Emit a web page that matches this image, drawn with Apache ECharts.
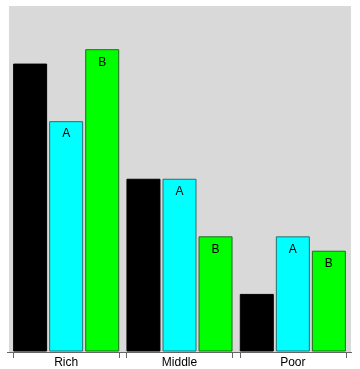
<!DOCTYPE html>
<html>
<head>
<meta charset="utf-8">
<script src="https://cdn.jsdelivr.net/npm/echarts@6/dist/echarts.min.js"></script>
<style>html,body{margin:0;padding:0;background:#fff}#c{width:360px;height:369px}</style>
</head>
<body>
<div id="c"></div>
<script>
const categories = ['Rich', 'Middle', 'Poor'];
const seriesBlack = [10, 6, 2];
const seriesCyan = [8, 6, 4];
const seriesGreen = [10.5, 4, 3.5];
const cyanLabel = 'A';
const greenLabel = 'B';
const yMax = 12;

// helper axis used only to draw tick marks at the edges of each bar group
const subdivisions = 92;
const tickIdx = [1, 30, 32, 61, 63];
const tickCats = Array.from({length: subdivisions}, (_, i) => String(i));

const chart = echarts.init(document.getElementById('c'), null, {renderer: 'canvas'});
const font = 'Liberation Sans, Arial, sans-serif';
const lbl = (t) => ({
  show: true, position: 'insideTop', distance: 7, formatter: t,
  color: '#000', fontSize: 12, fontFamily: font
});
chart.setOption({
  animation: false,
  backgroundColor: '#fff',
  graphic: [
    {type: 'rect', z: -10, shape: {x: 9, y: 6, width: 342, height: 346}, style: {fill: '#d9d9d9'}},
    {type: 'line', z: 10, shape: {x1: 7, y1: 352.5, x2: 352, y2: 352.5}, style: {stroke: '#666', lineWidth: 1}}
  ],
  grid: [
    {left: 9.5, right: 10.5, top: 6, bottom: 17},
    {left: 9.5, right: 14.2, top: 6, bottom: 17}
  ],
  xAxis: [
    {
      type: 'category', data: categories, gridIndex: 0,
      axisLine: {show: false}, axisTick: {show: false},
      axisLabel: {color: '#000', fontSize: 12, fontFamily: font, margin: 5.5}
    },
    {
      type: 'category', data: tickCats, gridIndex: 1,
      axisLine: {show: false},
      axisLabel: {show: false},
      axisTick: {show: true, length: 6, lineStyle: {color: '#666', width: 1},
        interval: function (i) { return tickIdx.indexOf(i) >= 0; }}
    }
  ],
  yAxis: [
    {type: 'value', min: 0, max: yMax, gridIndex: 0, show: false},
    {type: 'value', min: 0, max: 1, gridIndex: 1, show: false}
  ],
  series: [
    {type: 'bar', name: 'black', data: seriesBlack, barWidth: 34, barGap: '6%',
      itemStyle: {color: '#000', borderColor: '#000', borderWidth: 1}},
    {type: 'bar', name: 'cyan', data: seriesCyan, barWidth: 34, barGap: '6%',
      itemStyle: {color: '#00ffff', borderColor: '#2a6f6f', borderWidth: 1}, label: lbl(cyanLabel)},
    {type: 'bar', name: 'green', data: seriesGreen, barWidth: 34, barGap: '6%',
      itemStyle: {color: '#00ff00', borderColor: '#1f6a1f', borderWidth: 1}, label: lbl(greenLabel)}
  ]
});
</script>
</body>
</html>
